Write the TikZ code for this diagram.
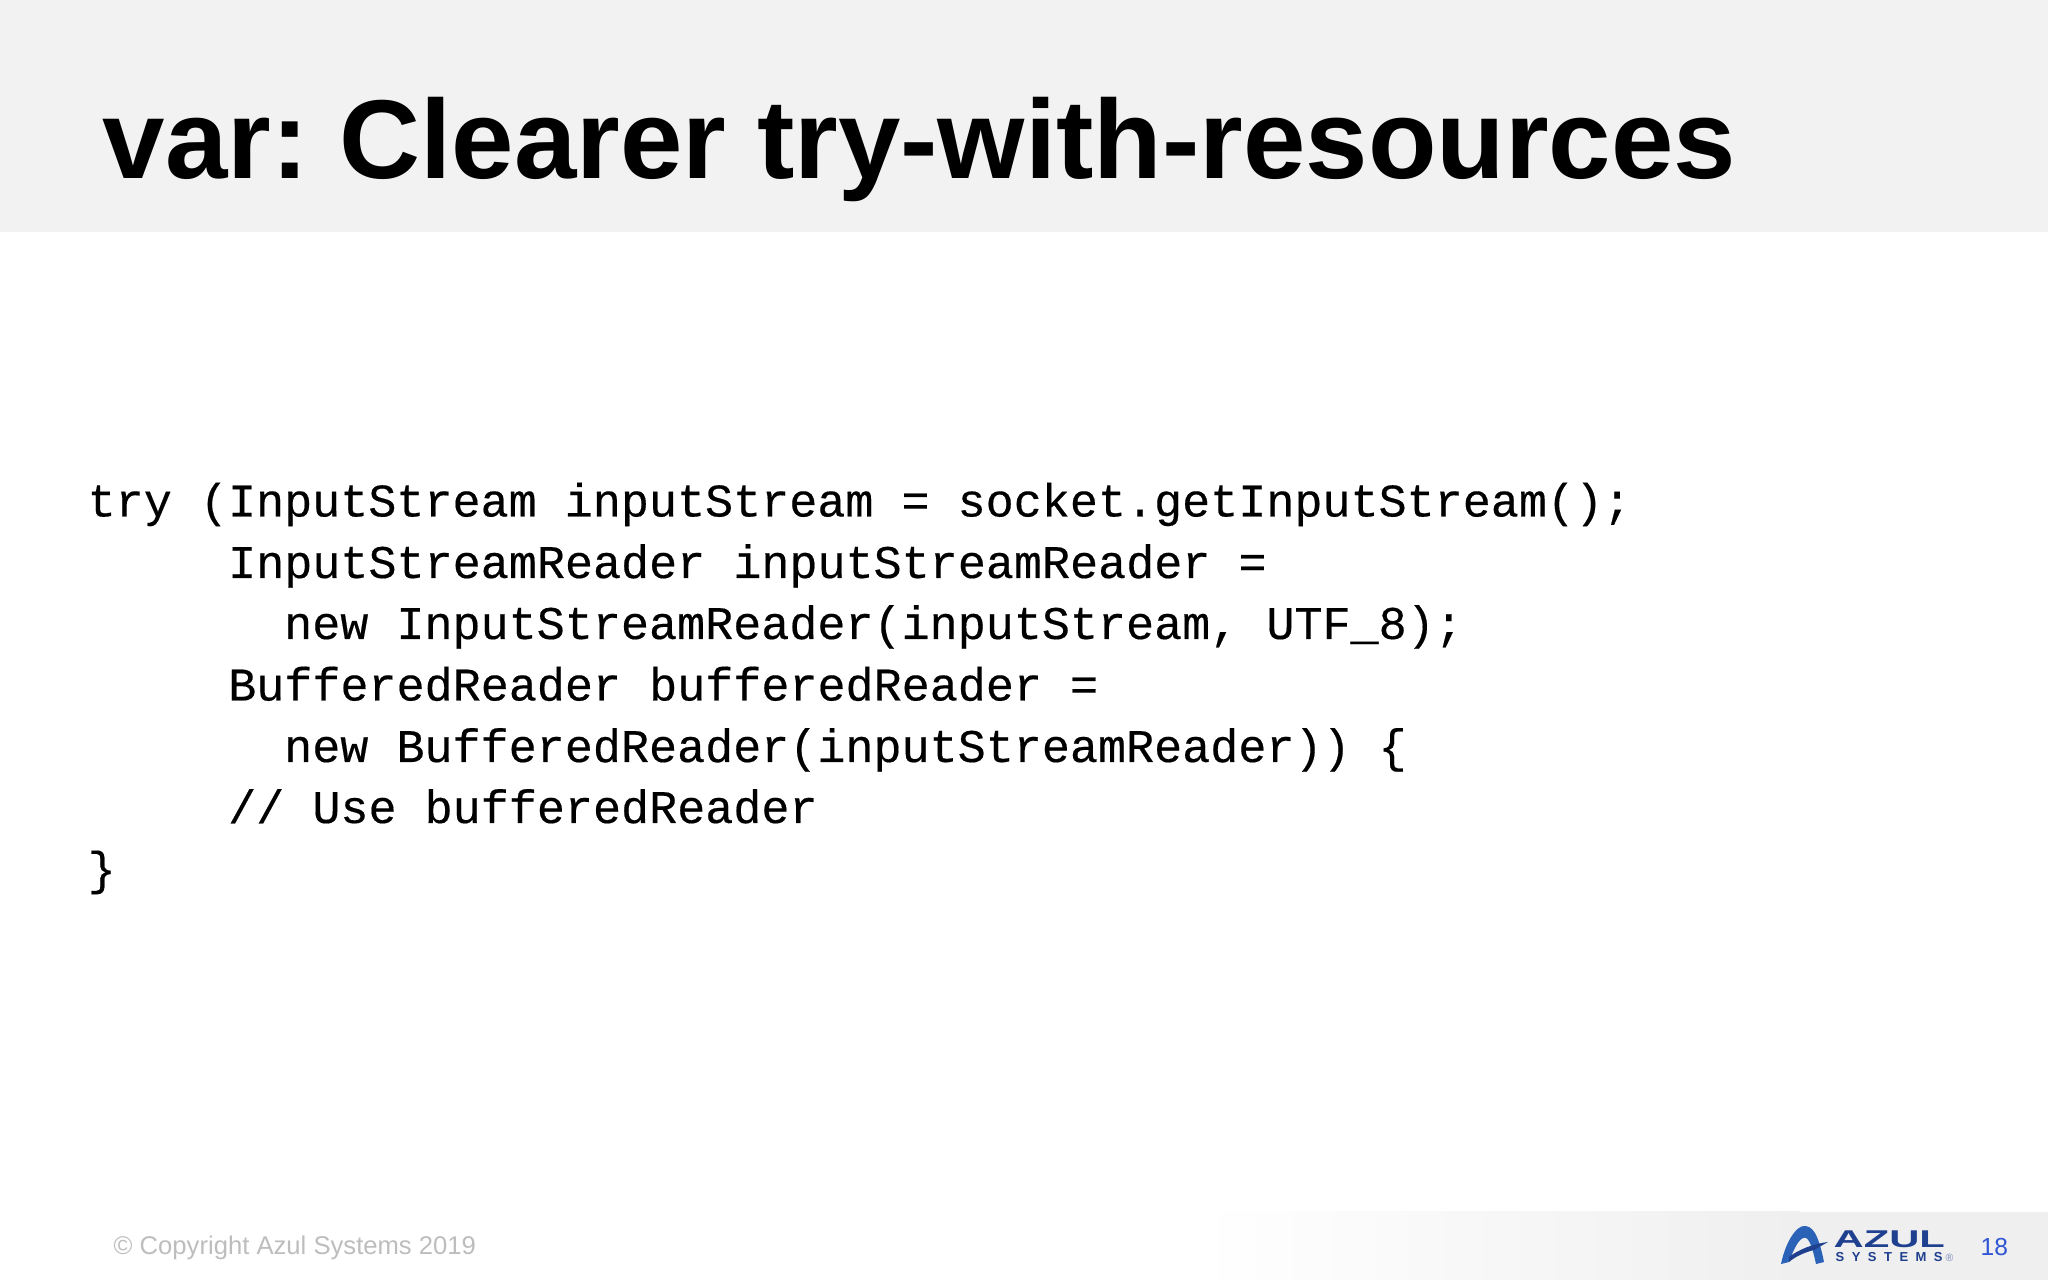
\documentclass[tikz,border=0pt]{standalone}
\usepackage{graphicx}
\usepackage{fontspec}
\setmainfont{Liberation Sans}
\setmonofont[FakeBold=0.35]{Liberation Mono}
\definecolor{bandgray}{HTML}{F2F2F2}
\definecolor{footgray}{HTML}{EFEFEF}
\definecolor{copygray}{HTML}{BDBDBD}
\definecolor{pageblue}{HTML}{2F55D4}
\definecolor{azuldark}{HTML}{1F3F8F}
\definecolor{azulblue}{HTML}{2A62B8}
\tikzset{
  titletext/.style={anchor=base west,inner sep=0pt,font=\fontsize{31.9}{36}\selectfont\bfseries\frenchspacing,text=black},
  codeline/.style={anchor=base west,inner sep=0pt,font=\fontsize{13.3}{16}\selectfont\ttfamily,text=black},
  foottext/.style={anchor=base west,inner sep=0pt,font=\fontsize{7.29}{9}\selectfont,text=copygray},
}
\begin{document}
\begin{tikzpicture}[x=0.01cm,y=-0.01cm]
  \useasboundingbox (0,0) rectangle (2048,1280);
  \fill[bandgray] (0,0) rectangle (2048,232);
  \fill[left color=white,right color=footgray] (1200,1212) rectangle (1800,1280);
  \fill[footgray] (1800,1212) rectangle (2048,1280);
  \node[titletext] (title) at (102,179) {var: Clearer try-with-resources};
  \node[codeline] (l1) at (87,516.5) {try (InputStream inputStream = socket.getInputStream();};
  \node[codeline] (l2) at (227.5,578) {InputStreamReader inputStreamReader =};
  \node[codeline] (l3) at (283.5,639) {new InputStreamReader(inputStream, UTF\_8);};
  \node[codeline] (l4) at (227.5,700.5) {BufferedReader bufferedReader =};
  \node[codeline] (l5) at (283.5,762) {new BufferedReader(inputStreamReader)) \{};
  \node[codeline] (l6) at (227.5,823) {// Use bufferedReader};
  \node[codeline] (l7) at (87,884.5) {\}};
  \node[foottext] (copy) at (113,1255) {© Copyright Azul Systems 2019};
  % logo
  \fill[azulblue] (1781,1264) .. controls (1786,1240) and (1797,1226) .. (1804,1226)
    .. controls (1812,1226) and (1818,1232) .. (1824,1262) -- (1816,1264)
    .. controls (1813,1250) and (1810,1240) .. (1806,1238)
    .. controls (1800,1236) and (1794,1248) .. (1789,1262) -- cycle;
  \fill[azuldark] (1789,1257) .. controls (1798,1250) and (1812,1244) .. (1828,1242)
    -- (1814,1250) .. controls (1806,1252) and (1796,1256) .. (1789,1262) -- cycle;
  \node[anchor=base west,inner sep=0pt,text=azuldark] (azul) at (1833,1248)
    {\scalebox{1.72}[1]{\fontsize{6.9}{8}\selectfont\bfseries AZUL}};
  \node[anchor=base west,inner sep=0pt,font=\fontsize{3.7}{4}\selectfont\bfseries,text=azuldark] (systems) at (1835,1262)
    {\makebox[30.4pt][s]{S\hfil Y\hfil S\hfil T\hfil E\hfil M\hfil S}};
  \node[anchor=base west,inner sep=0pt,font=\fontsize{3}{4}\selectfont,text=azuldark!60] (reg) at (1945,1262) {®};
  \node[anchor=base west,inner sep=0pt,font=\fontsize{7}{9}\selectfont,text=pageblue] (page) at (1980,1256) {18};
\end{tikzpicture}
\end{document}
